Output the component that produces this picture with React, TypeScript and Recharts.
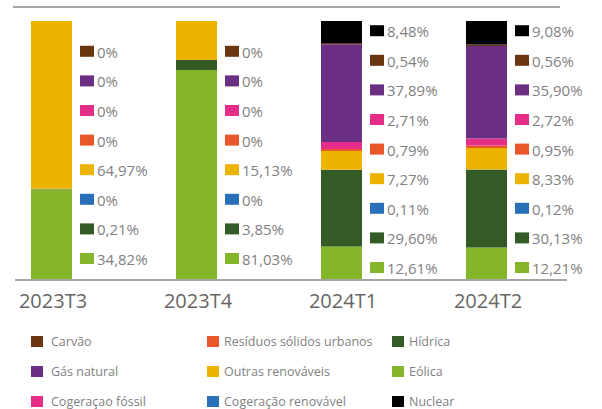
import { BarChart, Bar, XAxis, YAxis, LabelList } from "recharts";

const QUARTERS = ["2023T3", "2023T4", "2024T1", "2024T2"];

// shares in %, bottom of the stack first
const EOLICA = [34.82, 81.03, 12.61, 12.21];
const HIDRICA = [0.21, 3.85, 29.6, 30.13];
const COGER_RENOV = [0, 0, 0.11, 0.12];
const OUTRAS_RENOV = [64.97, 15.13, 7.27, 8.33];
const RESIDUOS = [0, 0, 0.79, 0.95];
const COGER_FOSSIL = [0, 0, 2.71, 2.72];
const GAS_NATURAL = [0, 0, 37.89, 35.9];
const CARVAO = [0, 0, 0.54, 0.56];
const NUCLEAR = [null, null, 8.48, 9.08];

const SERIES = [
  { key: "eolica", name: "Eólica", color: "#84b52a", values: EOLICA },
  { key: "hidrica", name: "Hídrica", color: "#345a26", values: HIDRICA },
  { key: "cogerRenov", name: "Cogeração renovável", color: "#2a70b8", values: COGER_RENOV },
  { key: "outras", name: "Outras renováveis", color: "#ecb300", values: OUTRAS_RENOV },
  { key: "residuos", name: "Resíduos sólidos urbanos", color: "#e9562a", values: RESIDUOS },
  { key: "cogerFossil", name: "Cogeraçao fóssil", color: "#e52e87", values: COGER_FOSSIL },
  { key: "gas", name: "Gás natural", color: "#6b2f83", values: GAS_NATURAL },
  { key: "carvao", name: "Carvão", color: "#6a360f", values: CARVAO },
  { key: "nuclear", name: "Nuclear", color: "#000000", values: NUCLEAR },
];

const LEGEND_COLUMNS = [
  ["Carvão", "Gás natural", "Cogeraçao fóssil"],
  ["Resíduos sólidos urbanos", "Outras renováveis", "Cogeração renovável"],
  ["Hídrica", "Eólica", "Nuclear"],
];

const data = QUARTERS.map((q, i) => {
  const row: Record<string, any> = { name: q, pad: 0 };
  SERIES.forEach((s) => {
    row[s.key] = s.values[i] ?? 0;
  });
  return row;
});

const FONT = "'Open Sans', sans-serif";
const fmt = (v: number) => (v === 0 ? "0%" : v.toFixed(2).replace(".", ",") + "%");

function ValueColumn(props: any) {
  const vb = props.viewBox || props;
  const { x, y, width, height } = vb;
  const idx = props.index;
  const rows = SERIES.filter((s) => s.values[idx] !== null);
  const bottom = y + height;
  const offset = rows.length === 9 ? 11 : 20;
  const left = x + width + 8;
  return (
    <g>
      {rows.map((s, i) => {
        const cy = bottom - offset - i * 29.6;
        return (
          <g key={s.key}>
            <rect x={left} y={cy - 6} width={14} height={11} fill={s.color} />
            <text
              x={left + 17}
              y={cy}
              dominantBaseline="central"
              fontSize={15}
              fontFamily={FONT}
              fill="#7f7f7f"
            >
              {fmt(s.values[idx] as number)}
            </text>
          </g>
        );
      })}
    </g>
  );
}

function LegendBox() {
  const colX = [31, 207, 392];
  const byName: Record<string, string> = {};
  SERIES.forEach((s) => (byName[s.name] = s.color));
  return (
    <div style={{ position: "absolute", left: 0, top: 326, width: 602, height: 90, fontFamily: FONT }}>
      {LEGEND_COLUMNS.map((col, c) =>
        col.map((n, r) => (
          <div
            key={n}
            style={{
              position: "absolute",
              left: colX[c],
              top: r * 30,
              display: "flex",
              alignItems: "center",
              height: 30,
              fontSize: 12.5,
              color: "#7f7f7f",
              whiteSpace: "nowrap",
            }}
          >
            <span
              style={{
                display: "inline-block",
                width: 12,
                height: 11,
                background: byName[n],
                marginRight: c === 0 ? 8 : 5,
              }}
            />
            {n}
          </div>
        ))
      )}
    </div>
  );
}

export default function App() {
  return (
    <div style={{ position: "absolute", left: 0, top: 0, width: 602, height: 409, overflow: "hidden", background: "#fff" }}>
      <div style={{ position: "absolute", left: 13, top: 6, width: 547, height: 2, background: "#a6a6a6" }} />
      <div style={{ position: "absolute", left: 15, top: 279, width: 552, height: 2, background: "#a6a6a6" }} />
      <BarChart
        width={602}
        height={409}
        data={data}
        margin={{ top: 21, right: 7, bottom: 100, left: 15 }}
        barSize={41}
        barGap={32}
      >
        <XAxis
          dataKey="name"
          axisLine={false}
          tickLine={false}
          tickSize={6}
          tickMargin={9}
          height={30}
          dx={-34.5}
          tick={{ fontSize: 20, fontFamily: FONT, fill: "#666666" }}
        />
        <YAxis hide domain={[0, 100]} />
        {SERIES.map((s, i) => (
          <Bar key={s.key} dataKey={s.key} name={s.name} stackId="mix" fill={s.color} isAnimationActive={false}>
            {i === 0 && <LabelList dataKey={s.key} content={ValueColumn} />}
          </Bar>
        ))}
        <Bar dataKey="pad" stackId="pad" fill="none" legendType="none" isAnimationActive={false} />
      </BarChart>
      <LegendBox />
    </div>
  );
}
